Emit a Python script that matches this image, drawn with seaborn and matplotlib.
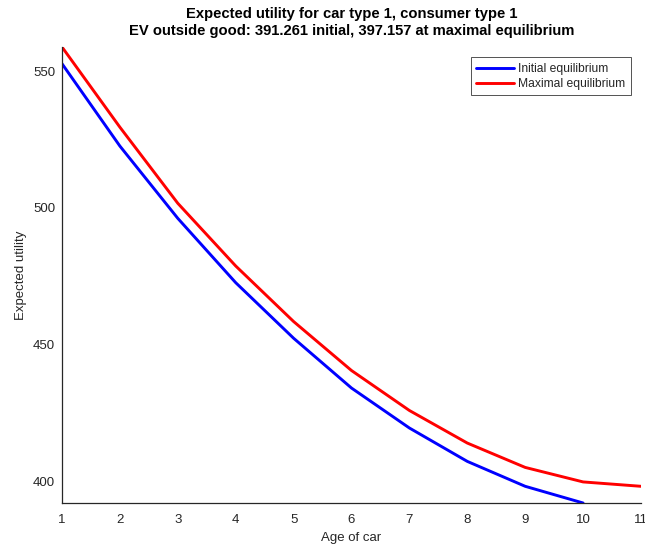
import matplotlib
matplotlib.use("Agg")
import matplotlib.pyplot as plt
import seaborn as sns
import pandas as pd

# Expected utility by car age for the two equilibria
age_initial = [1, 2, 3, 4, 5, 6, 7, 8, 9, 10]
utility_initial = [552.7, 522.6, 496.2, 472.7, 452.4, 434.2, 419.6, 407.4, 398.3, 392.2]

age_maximal = [1, 2, 3, 4, 5, 6, 7, 8, 9, 10, 11]
utility_maximal = [558.8, 529.5, 501.7, 478.8, 458.5, 440.6, 426.0, 414.1, 405.2, 399.9, 398.3]

series_names = ["Initial equilibrium", "Maximal equilibrium"]
x_ticks = [1, 2, 3, 4, 5, 6, 7, 8, 9, 10, 11]
y_ticks = [400, 450, 500, 550]

sns.set_style("white")
plt.rcParams["font.family"] = ["Liberation Sans", "DejaVu Sans"]

axis_color = "#262626"

df = pd.concat([
    pd.DataFrame({"age": age_initial, "utility": utility_initial, "eq": series_names[0]}),
    pd.DataFrame({"age": age_maximal, "utility": utility_maximal, "eq": series_names[1]}),
])

fig = plt.figure(figsize=(6.45, 5.48), dpi=100)
ax = fig.add_axes([62 / 645, 1 - 503 / 548, (641 - 62) / 645, (503 - 47) / 548])

sns.lineplot(data=df, x="age", y="utility", hue="eq",
             palette={series_names[0]: "#0000ff", series_names[1]: "#ff0000"},
             linewidth=2.1, ax=ax, legend=True)

ax.set_xlim(min(x_ticks), max(x_ticks))
ax.set_ylim(min(utility_initial + utility_maximal), max(utility_initial + utility_maximal))
ax.set_xticks(x_ticks)
ax.set_yticks(y_ticks)

for side in ("top", "right"):
    ax.spines[side].set_visible(False)
for side in ("left", "bottom"):
    ax.spines[side].set_color(axis_color)
    ax.spines[side].set_linewidth(0.9)

ax.tick_params(axis="both", direction="in", length=4.5, width=0.8,
               colors=axis_color, labelsize=9.5, pad=5)
ax.tick_params(axis="x", pad=8)

ax.set_xlabel("Age of car", fontsize=9.5, color=axis_color, labelpad=4)
ax.set_ylabel("Expected utility", fontsize=9.5, color=axis_color, labelpad=4)

ax.set_title("Expected utility for car type 1, consumer type 1\n"
             "EV outside good: 391.261 initial, 397.157 at maximal equilibrium",
             fontsize=10.6, fontweight="bold", color="black", pad=9, linespacing=1.25)

leg = ax.legend(title=None, loc="upper right", bbox_to_anchor=(0.982, 0.977),
                borderaxespad=0, fontsize=8.7, frameon=True, fancybox=False,
                edgecolor=axis_color, handlelength=3.1, handletextpad=0.35,
                borderpad=0.45, labelspacing=0.25)
leg.get_frame().set_linewidth(0.7)

fig.savefig("out.png", dpi=100)
